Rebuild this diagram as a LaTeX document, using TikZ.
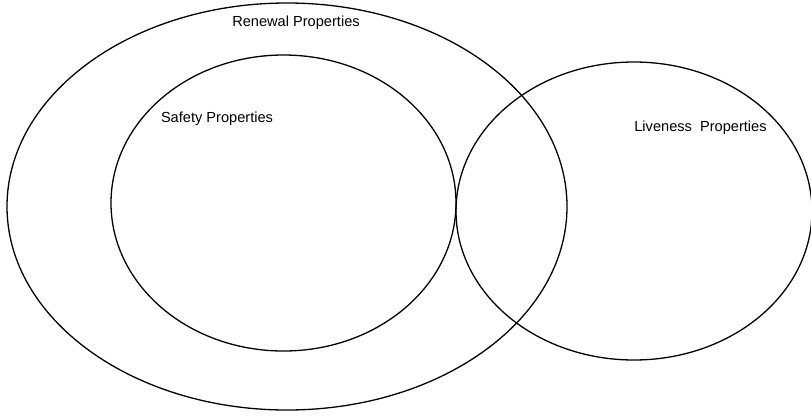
\documentclass[tikz,border=0pt]{standalone}
\usepackage{fontspec}
\setmainfont{Liberation Sans}
\begin{document}
\begin{tikzpicture}[x=1pt,y=-1pt,
  setline/.style={draw=black,line width=1.3pt},
  lbl/.style={font=\fontsize{14.6}{17}\selectfont,inner sep=0pt}]
\useasboundingbox (0,0) rectangle (811,416);
\begin{scope}
\clip (0,0) rectangle (811,416);
% set ellipses
\draw[setline] (287,206.5) ellipse [x radius=280, y radius=203.5];
\draw[setline] (283.5,203) ellipse [x radius=172.5, y radius=148];
\draw[setline] (634,211) ellipse [x radius=178, y radius=149];
\end{scope}
% labels
\node[lbl] (renewal) at (296,23) {Renewal Properties};
\node[lbl] (safety) at (217,119) {Safety Properties};
\node[lbl] (liveness) at (700.5,128) {Liveness\ \ Properties};
\end{tikzpicture}
\end{document}
